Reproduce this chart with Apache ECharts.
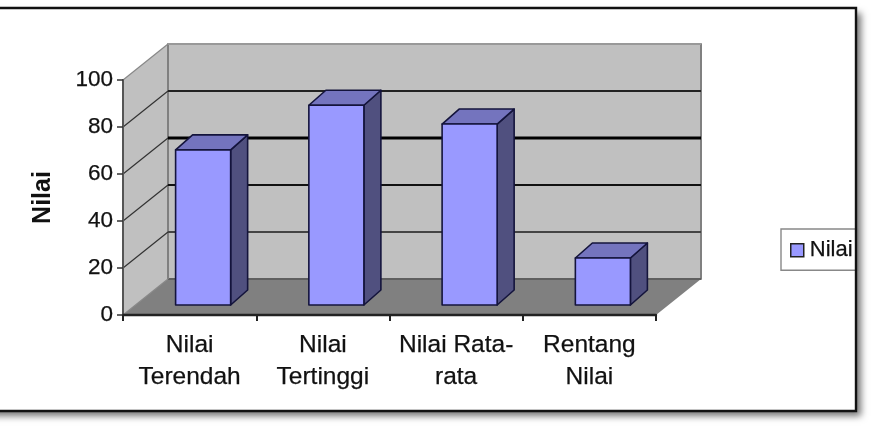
<!DOCTYPE html>
<html>
<head>
<meta charset="utf-8">
<style>html,body{margin:0;padding:0;background:#fff;overflow:hidden}#c{width:874px;height:426px;filter:blur(0.4px)}</style>
<script src="https://cdn.jsdelivr.net/npm/echarts@6/dist/echarts.min.js"></script>
</head>
<body>
<div id="c"></div>
<script>
const categories = ['Nilai\nTerendah', 'Nilai\nTertinggi', 'Nilai Rata-\nrata', 'Rentang\nNilai'];
const seriesName = 'Nilai';
const values = [66, 85, 77, 20];
const yTicks = [0, 20, 40, 60, 80, 100];

// style / projection settings
const wallDepth = [45, -36];
const barOffset = [13.5, -10];
const barDepth = [17, -15];
const barShare = 0.413;
const gridColor = ['#777', '#444', '#111', '#000', '#222', '#888'];
const gridWidth = [2, 2, 2, 3, 2, 2];
const sideColor = ['#888', '#333', '#333', '#333', '#333', '#888'];

const chart = echarts.init(document.getElementById('c'), null, {renderer: 'canvas'});
const poly = (points, fill, stroke, lw) => ({
  type: 'polygon', shape: {points},
  style: {fill, stroke: stroke || null, lineWidth: lw || 0, lineJoin: 'round'}
});
const line = (a, b, stroke, lw) => ({
  type: 'line', shape: {x1: a[0], y1: a[1], x2: b[0], y2: b[1]},
  style: {stroke, lineWidth: lw}
});
const back = p => [p[0] + wallDepth[0], p[1] + wallDepth[1]];

function renderWalls(params, api) {
  const band = api.size([1, 0])[0];
  const n = categories.length;
  const bl = api.coord([0, 0]); bl[0] -= band / 2;
  const tl = api.coord([0, 100]); tl[0] -= band / 2;
  const br = api.coord([n - 1, 0]); br[0] += band / 2;
  const tr = api.coord([n - 1, 100]); tr[0] += band / 2;
  return {type: 'group', children: [
    poly([back(tl), back(tr), back(br), back(bl)], '#c0c0c0', '#808080', 2),
    poly([tl, back(tl), back(bl), bl], '#c0c0c0'),
    poly([bl, back(bl), back(br), br], '#808080'),
    line(back(bl), back(br), '#555', 1.5),
    line(back(bl), back(tl), '#808080', 2),
    line(back(tl), back(tr), '#999', 2)
  ]};
}

function renderGrid(params, api) {
  const i = params.dataIndex;
  const v = api.value(1);
  const band = api.size([1, 0])[0];
  const n = categories.length;
  const l = api.coord([0, v]); l[0] -= band / 2;
  const r = api.coord([n - 1, v]); r[0] += band / 2;
  const kids = [line(l, back(l), sideColor[i], 1.2)];
  if (i > 0 && i < 5) kids.push(line(back(l), back(r), gridColor[i], gridWidth[i]));
  return {type: 'group', children: kids};
}

function renderBar(params, api) {
  const cat = api.value(0);
  const val = api.value(1);
  const band = api.size([1, 0])[0];
  const w = band * barShare;
  const c0 = api.coord([cat, 0]);
  const c1 = api.coord([cat, val]);
  const x0 = c0[0] + barOffset[0] - w / 2, x1 = x0 + w;
  const y0 = c0[1] + barOffset[1], y1 = c1[1] + barOffset[1];
  const dx = barDepth[0], dy = barDepth[1];
  const edge = '#14143c';
  return {type: 'group', children: [
    poly([[x1, y1], [x1 + dx, y1 + dy], [x1 + dx, y0 + dy], [x1, y0]], '#50507f', edge, 1.6),
    poly([[x0, y1], [x0 + dx, y1 + dy], [x1 + dx, y1 + dy], [x1, y1]], '#7474be', edge, 1.6),
    poly([[x0, y1], [x1, y1], [x1, y0], [x0, y0]], '#9999ff', edge, 1.6)
  ]};
}

chart.setOption({
  animation: false,
  backgroundColor: 'transparent',
  textStyle: {fontFamily: '"Liberation Sans", Arial, sans-serif'},
  graphic: {elements: [
    {type: 'rect', z: -10, silent: true, shape: {x: -20, y: 8, width: 876, height: 403},
     style: {fill: '#fff', shadowColor: 'rgba(0,0,0,0.55)', shadowBlur: 7, shadowOffsetX: 5, shadowOffsetY: 5}},
    {type: 'rect', z: 100, silent: true, shape: {x: -20, y: 8, width: 876, height: 403},
     style: {fill: null, stroke: '#111', lineWidth: 2.4}}
  ]},
  grid: {left: 123, top: 80, width: 533, height: 235, containLabel: false},
  legend: {
    data: [{name: seriesName, icon: 'rect', itemStyle: {color: '#9999ff', borderColor: '#222', borderWidth: 1.5}}],
    left: 781, top: 229, orient: 'vertical',
    itemWidth: 13, itemHeight: 13, itemGap: 0,
    padding: [10, 5, 9, 9],
    borderColor: '#888', borderWidth: 1.4, backgroundColor: '#fff',
    textStyle: {fontSize: 22, color: '#111', textBorderColor: '#111', textBorderWidth: 0.25, padding: [0, 0, 0, 1]}
  },
  xAxis: {
    type: 'category', data: categories, z: 5,
    axisLine: {lineStyle: {color: '#222', width: 2.4}},
    axisTick: {show: true, length: 6, lineStyle: {color: '#222', width: 2}},
    axisLabel: {fontSize: 24.5, color: '#111', textBorderColor: '#111', textBorderWidth: 0.25, lineHeight: 32, margin: 14, interval: 0}
  },
  yAxis: {
    type: 'value', min: 0, max: 100, interval: 20, z: 5,
    name: 'Nilai', nameLocation: 'middle', nameGap: 67, nameRotate: 90,
    nameTextStyle: {fontSize: 25, fontWeight: 'bold', color: '#111'},
    splitLine: {show: false},
    axisLine: {show: true, lineStyle: {color: '#555', width: 2}},
    axisTick: {show: true, length: 6, lineStyle: {color: '#333', width: 1.5}},
    axisLabel: {fontSize: 22.5, color: '#111', textBorderColor: '#111', textBorderWidth: 0.25, margin: 10}
  },
  series: [
    {type: 'custom', name: 'walls', z: 1, silent: true, renderItem: renderWalls,
     data: [[0, 0]], encode: {x: 0, y: 1}, tooltip: {show: false}},
    {type: 'custom', name: 'grid', z: 2, silent: true, renderItem: renderGrid,
     data: yTicks.map(v => [0, v]), encode: {x: 0, y: 1}},
    {type: 'custom', name: seriesName, z: 3, renderItem: renderBar,
     itemStyle: {color: '#9999ff'},
     data: values.map((v, i) => [i, v]), encode: {x: 0, y: 1}}
  ]
});
</script>
</body>
</html>
